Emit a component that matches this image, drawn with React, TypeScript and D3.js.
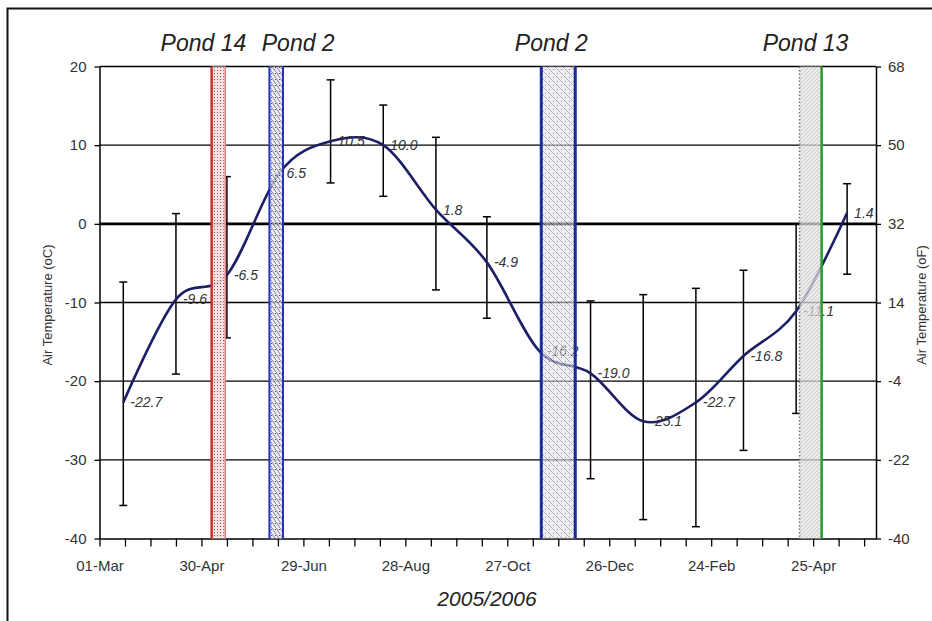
import React, { useRef, useEffect } from 'react';
import * as d3 from 'd3';

// monthly mean air temperature (oC), mid-month, with error bar ends
const monthDates = [
  '2005-03-15', '2005-04-15', '2005-05-15', '2005-06-15', '2005-07-15',
  '2005-08-15', '2005-09-15', '2005-10-15', '2005-11-15', '2005-12-15',
  '2006-01-15', '2006-02-15', '2006-03-15', '2006-04-15', '2006-05-15',
];
const meanTemp = [-22.7, -9.6, -6.5, 6.5, 10.5, 10.0, 1.8, -4.9, -16.2, -19.0, -25.1, -22.7, -16.8, -11.1, 1.4];
const errLow = [-35.8, -19.1, -14.5, null, 5.2, 3.5, -8.4, -12.0, null, -32.4, -37.6, -38.5, -28.8, -24.1, -6.4];
const errHigh = [-7.4, 1.3, 6.0, null, 18.3, 15.1, 11.0, 0.9, null, -9.8, -9.0, -8.2, -5.9, 0.0, 5.1];

// sampling windows
const pondNames = ['Pond 14', 'Pond 2', 'Pond 2', 'Pond 13'];
const pondStart = ['2005-05-06', '2005-06-09', '2005-11-16', '2006-04-17'];
const pondEnd = ['2005-05-14', '2005-06-17', '2005-12-06', '2006-04-30'];

const celsiusTicks = [20, 10, 0, -10, -20, -30, -40];
const fahrenheitTicks = [68, 50, 32, 14, -4, -22, -40];
const xLabelDates = ['2005-03-01', '2005-04-30', '2005-06-29', '2005-08-28', '2005-10-27', '2005-12-26', '2006-02-24', '2006-04-25'];

const FONT = '"Liberation Sans", Arial, sans-serif';

export default function App() {
  const svgRef = useRef<SVGSVGElement>(null);

  useEffect(() => {
    const svg = d3.select(svgRef.current);
    svg.selectAll('*').remove();

    const parse = d3.utcParse('%Y-%m-%d');
    const iso = d3.utcFormat('%Y-%m-%d');
    const left = 99.5, right = 876, top = 66.5, bottom = 538.5;

    const start = parse('2005-03-01')!;
    const x = d3.scaleUtc()
      .domain([start, parse('2006-06-01')!])
      .range([left, right]);
    const y = d3.scaleLinear().domain([-40, 20]).range([bottom, top]);
    const yF = d3.scaleLinear().domain([-40, 68]).range([bottom, top]);

    const defs = svg.append('defs');
    // pond band fills
    const pRed = defs.append('pattern').attr('id', 'pRed').attr('patternUnits', 'userSpaceOnUse').attr('width', 3).attr('height', 3);
    pRed.append('rect').attr('width', 3).attr('height', 3).attr('fill', '#f6dede');
    pRed.append('rect').attr('x', 1).attr('y', 1).attr('width', 1).attr('height', 1).attr('fill', '#a04848');

    const pBlue1 = defs.append('pattern').attr('id', 'pBlue1').attr('patternUnits', 'userSpaceOnUse').attr('width', 4).attr('height', 6);
    pBlue1.append('rect').attr('width', 4).attr('height', 6).attr('fill', '#e6e6f2');
    pBlue1.append('path').attr('d', 'M0,0L4,6').attr('stroke', '#334').attr('stroke-width', 0.7);
    pBlue1.append('rect').attr('x', 3).attr('y', 1).attr('width', 1).attr('height', 1).attr('fill', '#223');

    const pBlue2 = defs.append('pattern').attr('id', 'pBlue2').attr('patternUnits', 'userSpaceOnUse').attr('width', 8).attr('height', 8);
    pBlue2.append('rect').attr('width', 8).attr('height', 8).attr('fill', '#e2e2ec');
    pBlue2.append('path').attr('d', 'M0,0L8,8M-2,6L2,10M6,-2L10,2').attr('stroke', '#555').attr('stroke-width', 0.7);
    pBlue2.append('rect').attr('x', 5).attr('y', 1).attr('width', 1).attr('height', 1).attr('fill', '#333');
    pBlue2.append('rect').attr('x', 1).attr('y', 5).attr('width', 1).attr('height', 1).attr('fill', '#333');

    const pGreen = defs.append('pattern').attr('id', 'pGreen').attr('patternUnits', 'userSpaceOnUse').attr('width', 4).attr('height', 4);
    pGreen.append('rect').attr('width', 4).attr('height', 4).attr('fill', '#e4e4e4');
    pGreen.append('path').attr('d', 'M0,4L4,0').attr('stroke', '#b0b0b0').attr('stroke-width', 0.8);

    const bandStyle = [
      { fill: 'url(#pRed)', op: 0.92, lc: '#d42a2a', lw: 2.5, rc: '#e08080', rw: 1.5, ld: null, nudge: -15 },
      { fill: 'url(#pBlue1)', op: 0.8, lc: '#2233bb', lw: 2, rc: '#2233bb', rw: 2, ld: null, nudge: 22 },
      { fill: 'url(#pBlue2)', op: 0.6, lc: '#1a2a9a', lw: 3, rc: '#1a2a9a', rw: 3, ld: null, nudge: -7 },
      { fill: 'url(#pGreen)', op: 0.75, lc: '#777', lw: 1.5, rc: '#2a9a2a', rw: 2.5, ld: '1.5,2', nudge: -5 },
    ];

    // outer frame
    svg.append('rect')
      .attr('x', 7.5).attr('y', 8.5).attr('width', 1000).attr('height', 1000)
      .attr('fill', 'none').attr('stroke', '#111').attr('stroke-width', 2);

    // horizontal gridlines
    svg.append('g')
      .selectAll('line')
      .data(celsiusTicks.filter(v => v !== -40))
      .join('line')
      .attr('x1', left).attr('x2', right)
      .attr('y1', d => y(d)).attr('y2', d => y(d))
      .attr('stroke', '#000')
      .attr('stroke-width', d => (d === 0 ? 2.6 : 1.3));

    const styleAxis = (g: any) => {
      g.select('.domain').attr('stroke', '#000').attr('stroke-width', 1.5);
      g.selectAll('.tick line').attr('stroke', '#000').attr('stroke-width', 1.3);
      g.selectAll('.tick text').attr('fill', '#333').attr('font-size', 15).attr('font-family', FONT);
    };

    svg.append('g')
      .attr('transform', `translate(${left},0)`)
      .call(d3.axisLeft(y).tickValues(celsiusTicks).tickSize(5).tickSizeOuter(0).tickPadding(8).tickFormat(d => String(d)))
      .call(styleAxis);

    svg.append('g')
      .attr('transform', `translate(${right},0)`)
      .call(d3.axisRight(yF).tickValues(fahrenheitTicks).tickSize(5).tickSizeOuter(0).tickPadding(7).tickFormat(d => String(d)))
      .call(styleAxis);

    const xTicks = d3.range(0, 451, 15).map(n => d3.utcDay.offset(start, n));
    const labelSet = new Set(xLabelDates);
    const fmt = d3.utcFormat('%d-%b');
    svg.append('g')
      .attr('transform', `translate(0,${bottom})`)
      .call(d3.axisBottom(x).tickValues(xTicks).tickSize(8).tickSizeOuter(0).tickPadding(14)
        .tickFormat(d => (labelSet.has(iso(d as Date)) ? fmt(d as Date) : '')))
      .call(styleAxis);

    // error bars
    const pts = monthDates.map((d, i) => ({ date: parse(d)!, v: meanTemp[i], lo: errLow[i], hi: errHigh[i] }));
    const eb = svg.append('g').attr('stroke', '#000').attr('stroke-width', 1.5);
    pts.filter(p => p.lo !== null).forEach(p => {
      const cx = x(p.date);
      eb.append('line').attr('x1', cx).attr('x2', cx).attr('y1', y(p.lo as number)).attr('y2', y(p.hi as number));
      eb.append('line').attr('x1', cx - 4).attr('x2', cx + 4).attr('y1', y(p.lo as number)).attr('y2', y(p.lo as number));
      eb.append('line').attr('x1', cx - 4).attr('x2', cx + 4).attr('y1', y(p.hi as number)).attr('y2', y(p.hi as number));
    });

    // smoothed mean line
    const line = d3.line<any>()
      .x(d => x(d.date))
      .y(d => y(d.v))
      .curve(d3.curveCardinal.tension(0));
    svg.append('path')
      .datum(pts)
      .attr('fill', 'none')
      .attr('stroke', '#1c1f66')
      .attr('stroke-width', 2.6)
      .attr('d', line);

    // value labels
    svg.append('g')
      .selectAll('text')
      .data(pts)
      .join('text')
      .attr('x', d => x(d.date) + 7)
      .attr('y', d => y(d.v) + 5)
      .attr('font-family', FONT)
      .attr('font-size', 14)
      .attr('font-style', 'italic')
      .attr('fill', '#333')
      .text(d => d.v.toFixed(1));

    // pond sampling bands on top
    const bands = svg.append('g');
    pondNames.forEach((name, i) => {
      const x0 = x(parse(pondStart[i])!);
      const x1 = x(parse(pondEnd[i])!);
      const s = bandStyle[i];
      bands.append('rect')
        .attr('x', x0).attr('y', top).attr('width', x1 - x0).attr('height', bottom - top)
        .attr('fill', s.fill).attr('opacity', s.op);
      bands.append('line')
        .attr('x1', x0).attr('x2', x0).attr('y1', top).attr('y2', bottom)
        .attr('stroke', s.lc).attr('stroke-width', s.lw)
        .attr('stroke-dasharray', s.ld);
      bands.append('line')
        .attr('x1', x1).attr('x2', x1).attr('y1', top).attr('y2', bottom)
        .attr('stroke', s.rc).attr('stroke-width', s.rw);
      svg.append('text')
        .attr('x', (x0 + x1) / 2 + s.nudge)
        .attr('y', 51)
        .attr('text-anchor', 'middle')
        .attr('font-family', FONT)
        .attr('font-size', 23)
        .attr('font-style', 'italic')
        .attr('fill', '#222')
        .text(name);
    });

    // axis titles
    svg.append('text')
      .attr('transform', 'translate(47,305) rotate(-90)')
      .attr('text-anchor', 'middle')
      .attr('dominant-baseline', 'central')
      .attr('font-family', FONT)
      .attr('font-size', 13)
      .attr('fill', '#333')
      .text('Air Temperature (oC)');

    svg.append('text')
      .attr('transform', 'translate(921,305) rotate(-90)')
      .attr('text-anchor', 'middle')
      .attr('dominant-baseline', 'central')
      .attr('font-family', FONT)
      .attr('font-size', 13)
      .attr('fill', '#333')
      .text('Air Temperature (oF)');

    svg.append('text')
      .attr('x', 487)
      .attr('y', 606)
      .attr('text-anchor', 'middle')
      .attr('font-family', FONT)
      .attr('font-size', 21)
      .attr('font-style', 'italic')
      .attr('fill', '#222')
      .text('2005/2006');
  }, []);

  return (
    <svg
      ref={svgRef}
      width={932}
      height={621}
      style={{ position: 'absolute', left: 0, top: 0, display: 'block', background: '#fff' }}
    />
  );
}
